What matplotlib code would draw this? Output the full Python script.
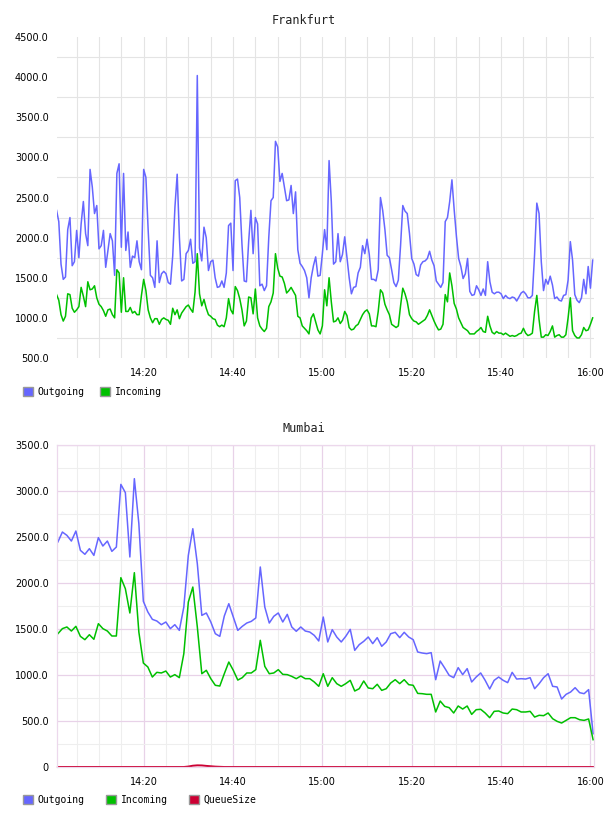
import numpy as np
import matplotlib
matplotlib.use('Agg')
import matplotlib.pyplot as plt
from matplotlib.patches import Patch
from matplotlib.ticker import MultipleLocator

# =========================
# data (minutes after 14:00)
# =========================

fra_t = 0.5 + 0.5 * np.arange(241)          # 30 s samples

fra_out = [
    2340, 2200, 1670, 1480, 1510, 2100, 2250, 1650, 1700, 2090,
    1750, 2170, 2450, 2050, 1900, 2850, 2630, 2300, 2400, 1860,
    1900, 2090, 1630, 1840, 2050, 1960, 1530, 2800, 2920, 1880,
    2800, 1840, 2070, 1630, 1770, 1750, 1960, 1700, 1600, 2850,
    2750, 2100, 1530, 1500, 1380, 1960, 1440, 1550, 1580, 1550,
    1440, 1420, 1770, 2380, 2790, 2000, 1460, 1480, 1800, 1840,
    1980, 1680, 1700, 4020, 1870, 1710, 2130, 2000, 1590, 1700,
    1720, 1500, 1380, 1390, 1460, 1380, 1560, 2150, 2180, 1590,
    2710, 2730, 2500, 1920, 1460, 1450, 1950, 2340, 1800, 2250,
    2170, 1400, 1420, 1340, 1400, 2000, 2460, 2500, 3200, 3130,
    2700, 2800, 2630, 2460, 2470, 2650, 2300, 2570, 1850, 1680,
    1640, 1590, 1500, 1250, 1500, 1650, 1760, 1520, 1530, 1800,
    2100, 1850, 2960, 2450, 1670, 1700, 2050, 1700, 1790, 2010,
    1760, 1500, 1300, 1380, 1390, 1560, 1630, 1900, 1800, 1980,
    1790, 1480, 1480, 1460, 1600, 2500, 2340, 2100, 1780, 1750,
    1600, 1440, 1390, 1470, 1900, 2400, 2330, 2300, 2050, 1740,
    1670, 1540, 1520, 1660, 1700, 1710, 1740, 1830, 1720, 1650,
    1460, 1420, 1380, 1440, 2200, 2250, 2450, 2720, 2350, 2020,
    1740, 1640, 1490, 1550, 1740, 1330, 1280, 1290, 1400, 1350,
    1280, 1360, 1280, 1700, 1450, 1320, 1300, 1320, 1320, 1300,
    1240, 1280, 1250, 1240, 1260, 1250, 1210, 1260, 1310, 1330,
    1300, 1250, 1250, 1280, 1790, 2430, 2300, 1700, 1340, 1480,
    1420, 1520, 1410, 1240, 1260, 1220, 1210, 1280, 1290, 1470,
    1950, 1720, 1290, 1220, 1190, 1250, 1480, 1300, 1640, 1370,
    1720,
]

fra_in = [
    1290, 1220, 1040, 960, 1020, 1300, 1290, 1120, 1070, 1100,
    1140, 1380, 1270, 1140, 1450, 1350, 1360, 1400, 1250, 1170,
    1140, 1090, 1020, 1100, 1110, 1040, 1000, 1600, 1560, 1070,
    1500, 1080, 1080, 1130, 1060, 1080, 1040, 1040, 1280, 1480,
    1340, 1100, 1000, 940, 990, 990, 920, 980, 1000, 980,
    970, 920, 1120, 1040, 1100, 990, 1060, 1100, 1140, 1160,
    1110, 1070, 1320, 1800, 1300, 1150, 1230, 1120, 1040, 1020,
    990, 980, 910, 890, 910, 890, 1000, 1240, 1100, 1050,
    1390, 1340, 1240, 1100, 900, 960, 1260, 1250, 1050, 1360,
    1000, 900, 860, 830, 870, 1140, 1200, 1310, 1800, 1620,
    1520, 1510, 1430, 1310, 1340, 1380, 1330, 1280, 1020, 1000,
    900, 870, 840, 800, 1000, 1050, 950, 850, 800, 900,
    1350, 1150, 1500, 1200, 950, 960, 1000, 930, 970, 1080,
    1030, 880, 850, 860, 900, 920, 980, 1040, 1080, 1100,
    1050, 900, 900, 890, 1080, 1350, 1310, 1170, 1100, 1040,
    920, 900, 880, 900, 1150, 1370, 1300, 1200, 1040, 990,
    960, 950, 920, 940, 960, 980, 1030, 1100, 1030, 960,
    900, 850, 860, 920, 1290, 1200, 1560, 1400, 1180, 1110,
    1000, 940, 880, 860, 840, 800, 800, 800, 830, 850,
    880, 830, 820, 1020, 900, 820, 800, 830, 810, 810,
    790, 810, 790, 770, 780, 770, 780, 800, 810, 870,
    810, 780, 790, 810, 1080, 1280, 980, 760, 760, 790,
    780, 830, 900, 760, 780, 790, 760, 760, 790, 1000,
    1250, 840, 780, 750, 750, 790, 880, 840, 850, 920,
    1000,
]

mum_t = np.linspace(0.8, 120.6, 120)        # ~1 min samples

mum_out = [
    2446, 2554, 2518, 2456, 2565, 2355, 2312, 2373, 2300, 2493,
    2402, 2456, 2344, 2391, 3072, 2982, 2283, 3134, 2645, 1801,
    1685, 1605, 1587, 1547, 1576, 1504, 1547, 1485, 1739, 2300,
    2590, 2210, 1648, 1674, 1576, 1449, 1420, 1641, 1775, 1630,
    1485, 1529, 1565, 1583, 1620, 2174, 1739, 1565, 1638, 1674,
    1576, 1659, 1522, 1475, 1522, 1478, 1467, 1431, 1370, 1630,
    1359, 1493, 1413, 1359, 1420, 1496, 1268, 1330, 1366, 1413,
    1341, 1406, 1312, 1359, 1449, 1464, 1406, 1464, 1413, 1384,
    1250, 1239, 1232, 1243, 949, 1152, 1076, 996, 971, 1080,
    1004, 1069, 924, 978, 1022, 942, 848, 942, 978, 942,
    917, 1029, 956, 960, 956, 971, 851, 906, 971, 1014,
    877, 870, 739, 790, 815, 862, 808, 797, 841, 362,
]

mum_in = [
    1449, 1504, 1522, 1478, 1529, 1420, 1384, 1438, 1388, 1558,
    1504, 1478, 1424, 1424, 2058, 1938, 1674, 2112, 1467, 1130,
    1087, 978, 1029, 1022, 1043, 978, 1004, 971, 1232, 1793,
    1956, 1522, 1014, 1051, 960, 888, 880, 1014, 1141, 1051,
    945, 971, 1022, 1022, 1058, 1377, 1094, 1014, 1022, 1058,
    1007, 1004, 985, 960, 989, 960, 960, 924, 877, 1014,
    877, 971, 906, 877, 906, 942, 826, 851, 935, 859,
    851, 899, 833, 851, 913, 949, 906, 949, 895, 888,
    800, 797, 790, 790, 598, 717, 659, 645, 587, 663,
    630, 663, 572, 623, 627, 587, 536, 605, 609, 587,
    580, 630, 623, 598, 598, 605, 543, 562, 558, 587,
    525, 496, 478, 507, 536, 536, 514, 507, 522, 297,
]

mum_queue = [0] * 29 + [5, 14, 18, 17, 12, 8, 4, 2] + [0] * 83

time_ticks = [20, 40, 60, 80, 100, 120]
time_labels = ['14:20', '14:40', '15:00', '15:20', '15:40', '16:00']

C_OUT = '#6666ff'
C_IN = '#00c000'
C_Q = '#cc0033'

W, H = 608, 816
fig = plt.figure(figsize=(W / 100, H / 100), dpi=100)

TICK_FONT = dict(family='DejaVu Sans', size=7)
MONO = 'DejaVu Sans Mono'


def style_axis(ax, xlim):
    ax.set_xlim(*xlim)
    ax.set_xticks(time_ticks)
    ax.set_xticklabels(time_labels, fontdict=TICK_FONT)
    ax.xaxis.set_minor_locator(MultipleLocator(5))
    ax.tick_params(which='both', length=0)
    ax.tick_params(axis='x', pad=7)
    ax.tick_params(axis='y', pad=6)
    ax.set_axisbelow(True)


# =========================
# Frankfurt
# =========================
ax1 = fig.add_axes([57 / W, 1 - 358 / H, 537 / W, 321 / H])
ax1.plot(fra_t, fra_out, color=C_OUT, lw=1.1)
ax1.plot(fra_t, fra_in, color=C_IN, lw=1.1)
style_axis(ax1, (0.6, 120.8))
ax1.set_ylim(500, 4500)
ax1.set_yticks(range(500, 4501, 500))
ax1.set_yticklabels([f'{v:.1f}' for v in range(500, 4501, 500)], fontdict=TICK_FONT)
ax1.set_yticks(np.arange(750, 4500, 500), minor=True)
ax1.grid(axis='x', which='both', color='#e4e4e4', lw=0.8)
ax1.grid(axis='y', which='minor', color='#e4e4e4', lw=0.8)
for s in ax1.spines.values():
    s.set_visible(False)

fig.text(304 / W, 1 - 20 / H, 'Frankfurt', ha='center', va='center',
         family=MONO, fontsize=8.5, color='#222222')

fig.legend([Patch(facecolor=C_OUT, edgecolor='#999999'),
            Patch(facecolor=C_IN, edgecolor='#999999')],
           ['Outgoing', 'Incoming'],
           loc='center left', bbox_to_anchor=(23 / W, 1 - 392 / H),
           ncol=2, frameon=False, borderpad=0, borderaxespad=0,
           handlelength=1.0, handleheight=1.0, handletextpad=0.5,
           columnspacing=1.6, prop={'family': MONO, 'size': 7})

# =========================
# Mumbai
# =========================
ax2 = fig.add_axes([57 / W, 1 - 767 / H, 537 / W, 322 / H])
ax2.plot(mum_t, mum_out, color=C_OUT, lw=1.1)
ax2.plot(mum_t, mum_in, color=C_IN, lw=1.1)
ax2.plot(mum_t, mum_queue, color=C_Q, lw=1.4, clip_on=False)
style_axis(ax2, (0.6, 120.8))
ax2.set_ylim(0, 3500)
ax2.set_yticks(range(0, 3501, 500))
ax2.set_yticklabels(['0'] + [f'{v:.1f}' for v in range(500, 3501, 500)], fontdict=TICK_FONT)
ax2.yaxis.set_minor_locator(MultipleLocator(250))
ax2.grid(which='major', color='#e8d2e8', lw=0.9)
ax2.grid(which='minor', color='#eeeeee', lw=0.8)
for s in ax2.spines.values():
    s.set_color('#ecd8ec')
    s.set_linewidth(0.9)

fig.text(304 / W, 1 - 428 / H, 'Mumbai', ha='center', va='center',
         family=MONO, fontsize=8.5, color='#222222')

fig.legend([Patch(facecolor=C_OUT, edgecolor='#999999'),
            Patch(facecolor=C_IN, edgecolor='#999999'),
            Patch(facecolor=C_Q, edgecolor='#999999')],
           ['Outgoing', 'Incoming', 'QueueSize'],
           loc='center left', bbox_to_anchor=(23 / W, 1 - 800 / H),
           ncol=3, frameon=False, borderpad=0, borderaxespad=0,
           handlelength=1.0, handleheight=1.0, handletextpad=0.5,
           columnspacing=2.2, prop={'family': MONO, 'size': 7})

fig.savefig('out.png', dpi=100)
